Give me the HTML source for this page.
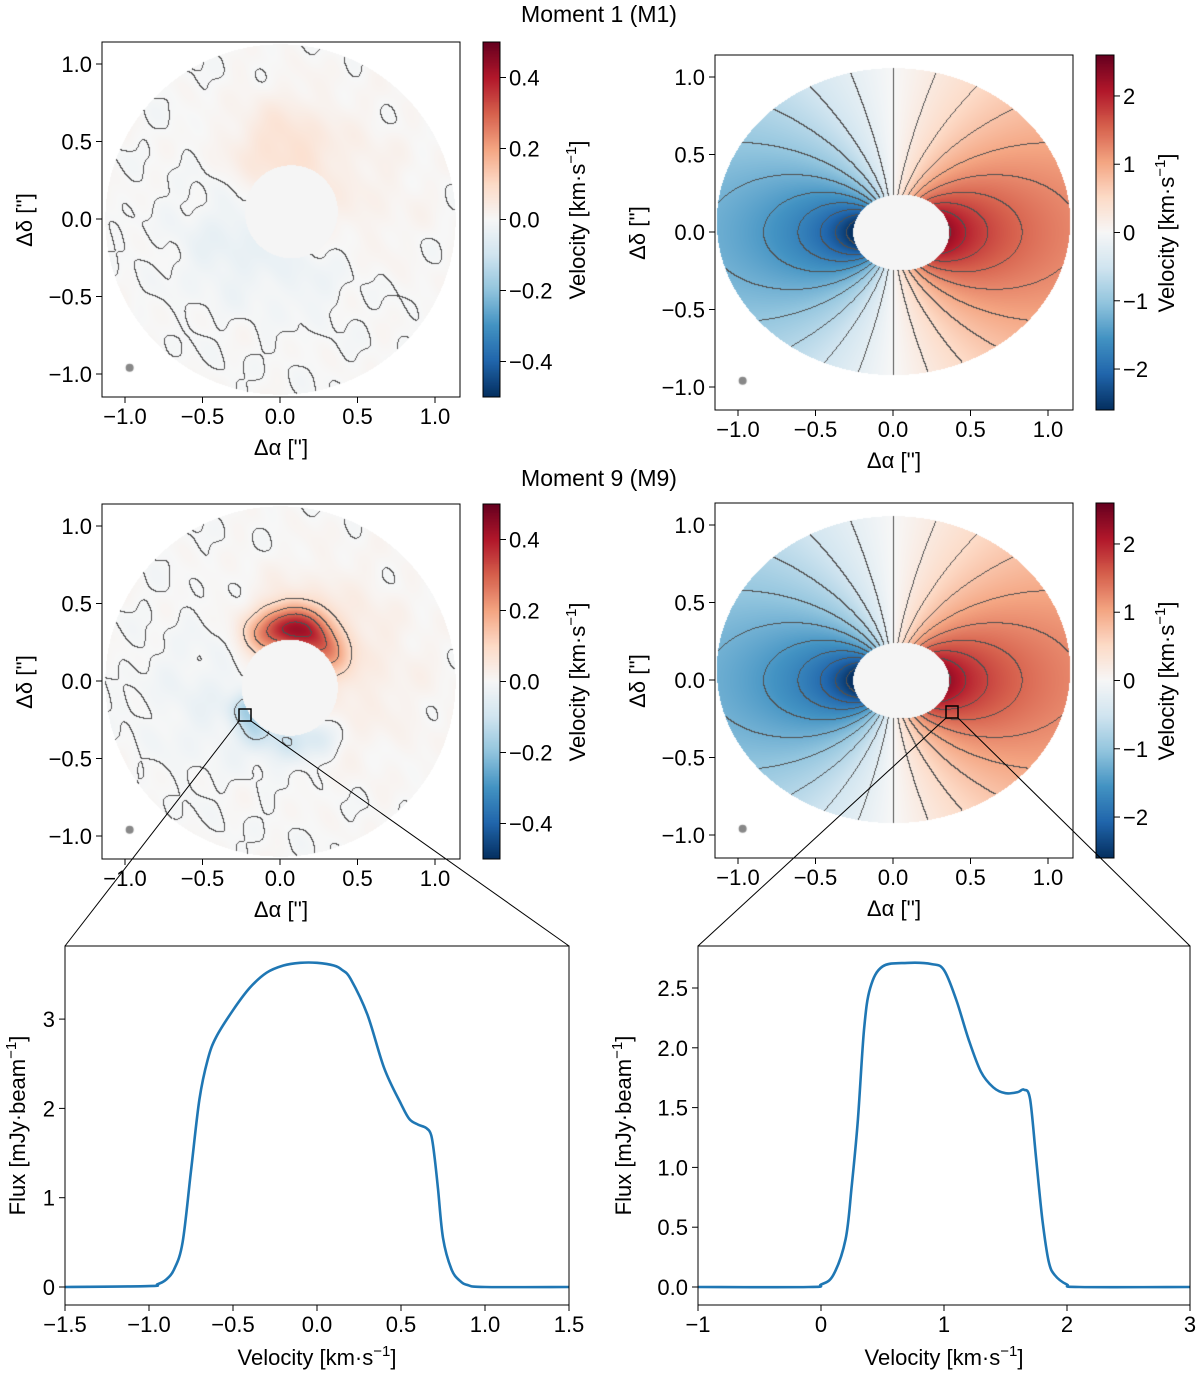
<!DOCTYPE html>
<html><head><meta charset="utf-8">
<style>
html,body{margin:0;padding:0;background:#fff;}
#wrap{position:relative;width:1200px;height:1373px;overflow:hidden;font-family:"Liberation Sans",sans-serif;}
canvas{position:absolute;}
svg{position:absolute;left:0;top:0;}
</style></head>
<body>
<div id="wrap">
<canvas id="m1l" style="left:102px;top:42px" width="358" height="355"></canvas>
<canvas id="m1r" style="left:715px;top:55px" width="358" height="355"></canvas>
<canvas id="m9l" style="left:102px;top:504px" width="358" height="355"></canvas>
<canvas id="m9r" style="left:715px;top:503px" width="358" height="355"></canvas>
<canvas id="cb1" style="left:483px;top:42px" width="17" height="355"></canvas>
<canvas id="cb2" style="left:1096px;top:55px" width="18" height="355"></canvas>
<canvas id="cb3" style="left:483px;top:504px" width="17" height="355"></canvas>
<canvas id="cb4" style="left:1096px;top:503px" width="18" height="355"></canvas>
<svg id="ov" width="1200" height="1373"></svg>
</div>
<script>
// spectrum data
const specLV=[-1.5,-1.0,-0.95,-0.9,-0.85,-0.8,-0.75,-0.7,-0.65,-0.6,-0.5,-0.4,-0.3,-0.2,-0.1,0.0,0.1,0.15,0.2,0.3,0.4,0.5,0.55,0.6,0.65,0.68,0.7,0.72,0.75,0.8,0.85,0.9,1.0,1.5];
const specLF=[0,0.01,0.03,0.08,0.2,0.5,1.3,2.1,2.55,2.8,3.1,3.35,3.52,3.6,3.63,3.63,3.6,3.55,3.45,3.05,2.45,2.05,1.88,1.82,1.78,1.7,1.45,1.1,0.55,0.2,0.07,0.02,0.0,0];
const specRV=[-1,-0.1,0,0.1,0.2,0.25,0.3,0.35,0.4,0.5,0.7,0.9,1.0,1.1,1.2,1.3,1.4,1.5,1.6,1.65,1.7,1.75,1.8,1.85,1.9,2.0,2.1,3];
const specRF=[0,0,0.02,0.1,0.4,0.85,1.4,2.15,2.5,2.68,2.71,2.7,2.65,2.4,2.07,1.8,1.67,1.62,1.63,1.65,1.57,1.06,0.56,0.22,0.1,0.02,0,0];
// colormap (RdBu_r)
const cmapStops=["#053061","#2166ac","#4393c3","#92c5de","#d1e5f0","#f7f7f7","#fddbc7","#f4a582","#d6604d","#b2182b","#67001f"];
// map model parameters [x, y, sigma, amplitude]
const blobsM1=[[0.0,0.45,0.22,0.07],[0.4,0.2,0.35,0.025],[-0.3,-0.15,0.25,-0.04],[0.2,-0.35,0.2,-0.025]];
const blobsM9=[[-0.1,0.3,0.1,0.18],[0.05,0.36,0.1,0.25],[0.2,0.32,0.1,0.22],[0.3,0.18,0.1,0.15],[0.2,0.25,0.3,0.05],
 [-0.22,-0.18,0.07,-0.14],[-0.15,-0.32,0.08,-0.12],[0.05,-0.4,0.09,-0.1],[0.25,-0.36,0.09,-0.07],[-0.4,-0.1,0.3,-0.03],[0.5,0.0,0.4,0.02]];
const keplerK=[1.37];

function hex(h){return [parseInt(h.slice(1,3),16),parseInt(h.slice(3,5),16),parseInt(h.slice(5,7),16)];}
const CS=cmapStops.map(hex);
function cmap(t){t=Math.max(0,Math.min(1,t))*10;const i=Math.min(9,Math.floor(t)),f=t-i;const a=CS[i],b=CS[i+1];return [a[0]+(b[0]-a[0])*f,a[1]+(b[1]-a[1])*f,a[2]+(b[2]-a[2])*f];}
function noise(x,y){return 0.006*(Math.sin(13*x+2.1)*Math.sin(11*y+0.7)+Math.sin(21*x-7*y+1.3)*0.8+Math.sin(17*y+5*x+2.9)*0.7+Math.sin(29*x+23*y)*0.5);}

function drawMap(id,ox,oy,fn,mask,vmax,step,off){
 const c=document.getElementById(id),ctx=c.getContext('2d'),W=c.width,H=c.height,s=155;
 const img=ctx.createImageData(W,H),d=img.data,V=new Float32Array(W*H);
 for(let j=0;j<H;j++)for(let i=0;i<W;i++){const x=(i-ox)/s,y=(oy-j)/s;const m=mask(x,y);
  const k=j*W+i; if(m===0){V[k]=NaN;d[k*4]=255;d[k*4+1]=255;d[k*4+2]=255;d[k*4+3]=255;continue;}
  if(m===2){V[k]=NaN;d[k*4]=245;d[k*4+1]=245;d[k*4+2]=245;d[k*4+3]=255;continue;}
  const v=fn(x,y);V[k]=v-off;const col=cmap((v+vmax)/(2*vmax));d[k*4]=col[0];d[k*4+1]=col[1];d[k*4+2]=col[2];d[k*4+3]=255;}
 for(let j=0;j<H-1;j++)for(let i=0;i<W-1;i++){const k=j*W+i,a=V[k],b=V[k+1],e=V[k+W];if(isNaN(a))continue;
  const la=Math.floor(a/step);let hit=false;if(!isNaN(b)&&Math.floor(b/step)!==la)hit=true;if(!isNaN(e)&&Math.floor(e/step)!==la)hit=true;
  if(hit){d[k*4]=80;d[k*4+1]=80;d[k*4+2]=80;}}
 ctx.putImageData(img,0,0);
 ctx.fillStyle='#888';ctx.beginPath();ctx.arc(ox-0.97*s,oy+0.96*s,4,0,7);ctx.fill();
}
function blobField(bl){return (x,y)=>{let v=noise(x,y);for(const b of bl){const dx=x-b[0],dy=y-b[1];v+=b[3]*Math.exp(-(dx*dx+dy*dy)/(2*b[2]*b[2]));}return v;};}
const circMask=(hx,hy,hr)=>(x,y)=>{if(x*x+y*y>1.13*1.13)return 0;const dx=x-hx,dy=y-hy;if(dx*dx+dy*dy<hr*hr)return 2;return 1;};
const ellMask=(x,y)=>{const a=x/1.14,b=(y-0.07)/0.99;if(a*a+b*b>1)return 0;const c=(x-0.05)/0.31,e=y/0.245;if(c*c+e*e<1)return 2;return 1;};
const kep=(x,y)=>{const yd=y/0.8;const r=Math.max(0.12,Math.sqrt(x*x+yd*yd));return keplerK[0]*x/Math.pow(r,1.5);};
drawMap('m1l',178,177,blobField(blobsM1),circMask(0.07,0.05,0.3),0.5,0.2,-0.004);
drawMap('m9l',178,177,blobField(blobsM9),circMask(0.06,-0.04,0.31),0.5,0.1,-0.004);
drawMap('m1r',178,177,kep,ellMask,2.6,0.25,0.001);
drawMap('m9r',178,177,kep,ellMask,2.6,0.25,0.001);
function drawCB(id){const c=document.getElementById(id),ctx=c.getContext('2d');for(let j=0;j<c.height;j++){const col=cmap(1-j/(c.height-1));ctx.fillStyle=`rgb(${col[0]|0},${col[1]|0},${col[2]|0})`;ctx.fillRect(0,j,c.width,1);}}
['cb1','cb2','cb3','cb4'].forEach(drawCB);

const NS='http://www.w3.org/2000/svg',ov=document.getElementById('ov');
function el(tag,attrs,txt){const e=document.createElementNS(NS,tag);for(const k in attrs)e.setAttribute(k,attrs[k]);if(txt!==undefined)e.textContent=txt;ov.appendChild(e);return e;}
function fmt(v,dec){const s=Math.abs(v).toFixed(dec);return (v<0?'\u2212':'')+s;}
function txt(x,y,t,anchor,name,rot,size){const e=el('text',{x:x,y:y,'font-size':size||22,'text-anchor':anchor,fill:'#000',transform:rot?`rotate(-90 ${x} ${y})`:''},t);
 
 return e;}
function box(x,y,w,h,name){const r=el('rect',{x:x,y:y,width:w,height:h,fill:'none',stroke:'#000','stroke-width':1});
 
 }
function mapAxes(bx,by,ox,oy,name,cbx,cbVals,cbMax,cbDec){
 box(bx,by,358,355,name+'-frame');
 const mt=[-1,-0.5,0,0.5,1];
 mt.forEach(t=>{const px=ox+t*155;el('line',{x1:px,y1:by+355,x2:px,y2:by+361,stroke:'#000'});
  txt(px,by+382,fmt(t,1),'middle',name+'-x-tick');
  const py=oy-t*155;el('line',{x1:bx,y1:py,x2:bx-6,y2:py,stroke:'#000'});
  txt(bx-10,py+8,fmt(t,1),'end',name+'-y-tick');});
 txt(bx+179,by+413,'\u0394\u03b1 [\'\']','middle',name+'-x-axis-title');
 txt(bx-70,by+178,'\u0394\u03b4 [\'\']','middle',name+'-y-axis-title',true);
 const cw=cbx>1000?18:17;
 box(cbx,by,cw,355,name+'-colorbar-frame');
 cbVals.forEach(v=>{const py=by+177.5-v/cbMax*177.5;el('line',{x1:cbx+cw,y1:py,x2:cbx+cw+6,y2:py,stroke:'#000'});
  txt(cbx+cw+9,py+8,fmt(v,cbDec),'start',name+'-colorbar-tick');});
 const lx=cbx+cw+(cbDec?85:60);
 const t=txt(lx,by+178,'','middle',name+'-colorbar-title',true);
 t.innerHTML='Velocity [km\u00b7s<tspan dy="-9" font-size="15">\u22121</tspan><tspan dy="9">]</tspan>';
}
const cbLeft=[-0.4,-0.2,0,0.2,0.4],cbRight=[-2,-1,0,1,2];
mapAxes(102,42,280,219,'m1-left',483,cbLeft,0.5,1);
mapAxes(715,55,893,232,'m1-right',1096,cbRight,2.6,0);
mapAxes(102,504,280,681,'m9-left',483,cbLeft,0.5,1);
mapAxes(715,503,893,680,'m9-right',1096,cbRight,2.6,0);
txt(599,22,'Moment 1 (M1)','middle','title-moment-1',false,23);
txt(599,486,'Moment 9 (M9)','middle','title-moment-9',false,23);
// zoom markers
el('rect',{x:239,y:709,width:12,height:12,fill:'none',stroke:'#000','stroke-width':1.5});
el('rect',{x:946,y:706,width:12,height:12,fill:'none',stroke:'#000','stroke-width':1.5});
el('line',{x1:239,y1:721,x2:65,y2:946,stroke:'#000'});el('line',{x1:251,y1:721,x2:569,y2:946,stroke:'#000'});
el('line',{x1:946,y1:718,x2:698,y2:946,stroke:'#000'});el('line',{x1:958,y1:718,x2:1190,y2:946,stroke:'#000'});

function smoothPath(P){let d='M'+P[0][0].toFixed(1)+','+P[0][1].toFixed(1);
 for(let i=0;i<P.length-1;i++){const p0=P[Math.max(0,i-1)],p1=P[i],p2=P[i+1],p3=P[Math.min(P.length-1,i+2)];
  const c1=[p1[0]+(p2[0]-p0[0])/6,p1[1]+(p2[1]-p0[1])/6],c2=[p2[0]-(p3[0]-p1[0])/6,p2[1]-(p3[1]-p1[1])/6];
  d+='C'+c1[0].toFixed(1)+','+c1[1].toFixed(1)+' '+c2[0].toFixed(1)+','+c2[1].toFixed(1)+' '+p2[0].toFixed(1)+','+p2[1].toFixed(1);}
 return d;}
function spec(bx,bw,xmin,xmax,yppu,xt,xdec,yt,ydec,V,F,name){
 const by=946,bh=359,y0=1287;const X=v=>bx+(v-xmin)/(xmax-xmin)*bw,Y=f=>y0-f*yppu;
 el('rect',{x:bx,y:by,width:bw,height:bh,fill:'#fff',stroke:'none'});
 const P=V.map((v,i)=>[X(v),Y(F[i])]);
 const l=el('path',{d:smoothPath(P),fill:'none',stroke:'#1f77b4','stroke-width':2.6,'stroke-linejoin':'round'});
 
 
 box(bx,by,bw,bh,name+'-frame');
 xt.forEach(t=>{const px=X(t);el('line',{x1:px,y1:by+bh,x2:px,y2:by+bh+6,stroke:'#000'});txt(px,by+bh+27,fmt(t,xdec),'middle',name+'-x-tick');});
 yt.forEach(t=>{const py=Y(t);el('line',{x1:bx,y1:py,x2:bx-6,y2:py,stroke:'#000'});txt(bx-10,py+8,fmt(t,ydec),'end',name+'-y-tick');});
 const xl=txt(bx+bw/2,by+bh+60,'','middle',name+'-x-axis-title');
 xl.innerHTML='Velocity [km\u00b7s<tspan dy="-9" font-size="15">\u22121</tspan><tspan dy="9">]</tspan>';
 const yx=bx-(ydec?67:40);
 const yl=txt(yx,by+bh/2,'','middle',name+'-y-axis-title',true);
 yl.innerHTML='Flux [mJy\u00b7beam<tspan dy="-9" font-size="15">\u22121</tspan><tspan dy="9">]</tspan>';
}
spec(65,504,-1.5,1.5,89.3,[-1.5,-1,-0.5,0,0.5,1,1.5],1,[0,1,2,3],0,specLV,specLF,'spectrum-m9-left');
spec(698,492,-1,3,119.6,[-1,0,1,2,3],0,[0,0.5,1,1.5,2,2.5],1,specRV,specRF,'spectrum-m9-right');
</script>
</body></html>
